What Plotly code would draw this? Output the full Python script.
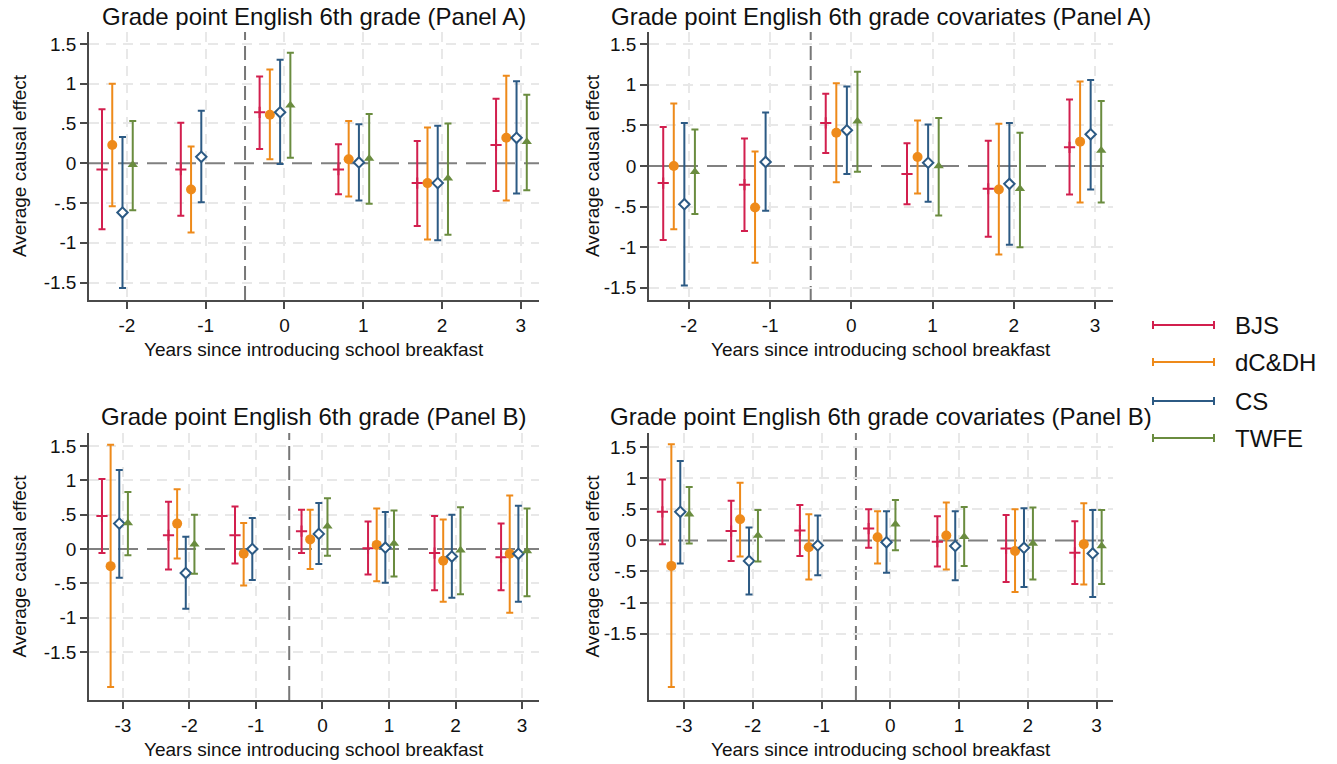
import numpy as np
import plotly.graph_objects as go

# ---------------- data ----------------
methods = ["BJS", "dC&DH", "CS", "TWFE"]
events_A = [-2, -1, 0, 1, 2, 3]
events_B = [-3, -2, -1, 0, 1, 2, 3]
NA = np.nan

# Panel A (no covariates)
a_bjs_est = [-0.08, -0.08, 0.64, -0.08, -0.25, 0.23]
a_bjs_lo = [-0.83, -0.66, 0.18, -0.39, -0.79, -0.35]
a_bjs_hi = [0.68, 0.51, 1.09, 0.24, 0.28, 0.81]
a_dc_est = [0.23, -0.33, 0.61, 0.05, -0.25, 0.32]
a_dc_lo = [-0.54, -0.87, 0.05, -0.42, -0.96, -0.47]
a_dc_hi = [1.00, 0.21, 1.18, 0.53, 0.45, 1.10]
a_cs_est = [-0.62, 0.08, 0.64, 0.01, -0.25, 0.32]
a_cs_lo = [-1.57, -0.49, -0.01, -0.47, -0.97, -0.38]
a_cs_hi = [0.33, 0.66, 1.30, 0.49, 0.47, 1.03]
a_tw_est = [-0.02, NA, 0.73, 0.06, -0.19, 0.27]
a_tw_lo = [-0.59, NA, 0.07, -0.51, -0.90, -0.34]
a_tw_hi = [0.53, NA, 1.39, 0.62, 0.50, 0.86]

# Panel A with covariates
ac_bjs_est = [-0.21, -0.23, 0.53, -0.10, -0.28, 0.23]
ac_bjs_lo = [-0.91, -0.80, 0.16, -0.47, -0.87, -0.35]
ac_bjs_hi = [0.48, 0.34, 0.89, 0.28, 0.31, 0.82]
ac_dc_est = [0.00, -0.51, 0.41, 0.11, -0.29, 0.30]
ac_dc_lo = [-0.78, -1.19, -0.20, -0.34, -1.09, -0.45]
ac_dc_hi = [0.77, 0.18, 1.02, 0.56, 0.52, 1.04]
ac_cs_est = [-0.47, 0.05, 0.44, 0.04, -0.22, 0.39]
ac_cs_lo = [-1.47, -0.55, -0.10, -0.44, -0.97, -0.29]
ac_cs_hi = [0.53, 0.66, 0.98, 0.51, 0.53, 1.06]
ac_tw_est = [-0.07, NA, 0.55, 0.00, -0.28, 0.19]
ac_tw_lo = [-0.59, NA, -0.07, -0.61, -1.00, -0.45]
ac_tw_hi = [0.45, NA, 1.16, 0.59, 0.41, 0.80]

# Panel B (no covariates)
b_bjs_est = [0.48, 0.20, 0.20, 0.26, 0.01, -0.06, -0.12]
b_bjs_lo = [-0.06, -0.30, -0.21, -0.06, -0.37, -0.60, -0.60]
b_bjs_hi = [1.02, 0.69, 0.62, 0.57, 0.40, 0.48, 0.37]
b_dc_est = [-0.25, 0.37, -0.07, 0.14, 0.06, -0.17, -0.07]
b_dc_lo = [-2.01, -0.14, -0.53, -0.29, -0.47, -0.77, -0.93]
b_dc_hi = [1.52, 0.87, 0.38, 0.57, 0.59, 0.43, 0.78]
b_cs_est = [0.37, -0.35, 0.00, 0.22, 0.02, -0.11, -0.07]
b_cs_lo = [-0.42, -0.87, -0.45, -0.22, -0.49, -0.71, -0.77]
b_cs_hi = [1.15, 0.18, 0.45, 0.67, 0.54, 0.50, 0.63]
b_tw_est = [0.38, 0.07, NA, 0.33, 0.08, -0.02, -0.03]
b_tw_lo = [-0.09, -0.36, NA, -0.10, -0.40, -0.66, -0.69]
b_tw_hi = [0.83, 0.50, NA, 0.74, 0.56, 0.61, 0.59]

# Panel B with covariates
bc_bjs_est = [0.46, 0.15, 0.16, 0.19, -0.02, -0.13, -0.20]
bc_bjs_lo = [-0.06, -0.33, -0.25, -0.12, -0.42, -0.67, -0.70]
bc_bjs_hi = [0.98, 0.64, 0.57, 0.50, 0.39, 0.41, 0.31]
bc_dc_est = [-0.41, 0.34, -0.11, 0.05, 0.08, -0.17, -0.06]
bc_dc_lo = [-2.36, -0.26, -0.63, -0.37, -0.47, -0.83, -0.71]
bc_dc_hi = [1.55, 0.93, 0.42, 0.47, 0.61, 0.50, 0.60]
bc_cs_est = [0.46, -0.33, -0.08, -0.03, -0.09, -0.12, -0.21]
bc_cs_lo = [-0.37, -0.87, -0.56, -0.52, -0.64, -0.75, -0.91]
bc_cs_hi = [1.28, 0.21, 0.40, 0.47, 0.47, 0.52, 0.49]
bc_tw_est = [0.42, 0.08, NA, 0.26, 0.06, -0.05, -0.09]
bc_tw_lo = [-0.05, -0.34, NA, -0.16, -0.41, -0.63, -0.70]
bc_tw_hi = [0.86, 0.49, NA, 0.65, 0.54, 0.53, 0.49]

titles = [
    "Grade point English 6th grade (Panel A)",
    "Grade point English 6th grade covariates (Panel A)",
    "Grade point English 6th grade (Panel B)",
    "Grade point English 6th grade covariates (Panel B)",
]
x_title = "Years since introducing school breakfast"
y_title = "Average causal effect"
y_tickvals = [-1.5, -1, -0.5, 0, 0.5, 1, 1.5]
y_ticktext = ["-1.5", "-1", "-.5", "0", ".5", "1", "1.5"]

panels = [
    (events_A, {"BJS": (a_bjs_est, a_bjs_lo, a_bjs_hi), "dC&DH": (a_dc_est, a_dc_lo, a_dc_hi),
                "CS": (a_cs_est, a_cs_lo, a_cs_hi), "TWFE": (a_tw_est, a_tw_lo, a_tw_hi)}),
    (events_A, {"BJS": (ac_bjs_est, ac_bjs_lo, ac_bjs_hi), "dC&DH": (ac_dc_est, ac_dc_lo, ac_dc_hi),
                "CS": (ac_cs_est, ac_cs_lo, ac_cs_hi), "TWFE": (ac_tw_est, ac_tw_lo, ac_tw_hi)}),
    (events_B, {"BJS": (b_bjs_est, b_bjs_lo, b_bjs_hi), "dC&DH": (b_dc_est, b_dc_lo, b_dc_hi),
                "CS": (b_cs_est, b_cs_lo, b_cs_hi), "TWFE": (b_tw_est, b_tw_lo, b_tw_hi)}),
    (events_B, {"BJS": (bc_bjs_est, bc_bjs_lo, bc_bjs_hi), "dC&DH": (bc_dc_est, bc_dc_lo, bc_dc_hi),
                "CS": (bc_cs_est, bc_cs_lo, bc_cs_hi), "TWFE": (bc_tw_est, bc_tw_lo, bc_tw_hi)}),
]

# ---------------- style / layout ----------------
W, H = 1337, 764


def px(p):
    return p / W


def py(p):
    return 1 - p / H


FONT = "Liberation Sans, Arial, sans-serif"
TXT = "#111111"
GRID = dict(showgrid=True, gridcolor="#E8E8E8", griddash="10px,7px", gridwidth=1.5)
STYLE = {
    "BJS": dict(color="#D21F4E", symbol="cross-thin", size=8, offset=-0.315),
    "dC&DH": dict(color="#EE8A1A", symbol="circle", size=10, offset=-0.185),
    "CS": dict(color="#2C5A84", symbol="diamond", size=8, offset=-0.055),
    "TWFE": dict(color="#6A8C3F", symbol="triangle-up", size=9, offset=0.075),
}
# plot areas in page pixels: (left, right, top, bottom)
BOX = [(89, 539, 32, 300), (649, 1113, 32, 300), (89, 539, 433, 700), (649, 1113, 433, 700)]
XR = [[-2.48, 3.23], [-2.49, 3.22], [-3.51, 3.255], [-3.51, 3.24]]
YR = [[-1.72, 1.65], [-1.65, 1.65], [-2.20, 1.69], [-2.57, 1.73]]
YT_X = [19, 592, 19, 592]

fig = go.Figure()
annotations = []
shapes = []
for i, (events, data) in enumerate(panels):
    k = "" if i == 0 else str(i + 1)
    xa, ya = "x" + k, "y" + k
    for m in methods:
        est, lo, hi = (np.array(v, dtype=float) for v in data[m])
        st = STYLE[m]
        is_open = st["symbol"] == "diamond"
        fig.add_trace(go.Scatter(
            x=np.array(events) + st["offset"], y=est, mode="markers", name=m, showlegend=False,
            xaxis=xa, yaxis=ya,
            error_y=dict(type="data", symmetric=False, array=hi - est, arrayminus=est - lo,
                         color=st["color"], thickness=2, width=3.5),
            marker=dict(symbol=st["symbol"], size=st["size"],
                        color="white" if is_open else st["color"],
                        line=dict(width=2 if st["symbol"] in ("diamond", "cross-thin") else 0,
                                  color=st["color"])),
            hoverinfo="skip",
        ))
    l, r, t, b = BOX[i]
    common = dict(showline=True, linecolor="#4a4a4a", linewidth=1.5, ticks="outside", ticklen=7,
                  tickwidth=1.5, tickcolor="#4a4a4a", zeroline=False,
                  tickfont=dict(size=19, color=TXT, family=FONT))
    fig.layout["xaxis" + k] = dict(common, **GRID, domain=[px(l), px(r)], range=XR[i], anchor=ya,
                                   tickvals=events, ticktext=[str(e) for e in events])
    # y grid drawn as minor grid everywhere except at 0 (0 gets the darker reference line)
    fig.layout["yaxis" + k] = dict(common, showgrid=False, domain=[py(b), py(t)], range=YR[i], anchor=xa,
                                   tickvals=y_tickvals, ticktext=y_ticktext,
                                   minor=dict(tickvals=[v for v in y_tickvals if v != 0], ticks="", **GRID))
    # reference lines
    shapes.append(dict(type="line", xref=xa, yref=ya + " domain", x0=-0.5, x1=-0.5, y0=0, y1=1,
                       line=dict(color="#777777", width=2, dash="14px,6px"), layer="below"))
    shapes.append(dict(type="line", xref=xa + " domain", yref=ya, x0=0, x1=1, y0=0, y1=0,
                       line=dict(color="#808080", width=2, dash="20px,9px"), layer="below"))
    # titles
    annotations.append(dict(text=titles[i], x=px((l + r) / 2), y=py(17 if i < 2 else 416),
                            xref="paper", yref="paper", showarrow=False, xanchor="center", yanchor="middle",
                            font=dict(size=24, color=TXT, family=FONT)))
    annotations.append(dict(text=x_title, x=px((l + r) / 2), y=py(b + 49),
                            xref="paper", yref="paper", showarrow=False, xanchor="center", yanchor="middle",
                            font=dict(size=19, color=TXT, family=FONT)))
    annotations.append(dict(text=y_title, x=px(YT_X[i]), y=py((t + b) / 2), textangle=-90,
                            xref="paper", yref="paper", showarrow=False, xanchor="center", yanchor="middle",
                            font=dict(size=19, color=TXT, family=FONT)))

# manual legend (error-bar style keys)
LEG_Y = [325, 362, 401, 438]
for m, yy in zip(methods, LEG_Y):
    c = STYLE[m]["color"]
    y = py(yy)
    shapes.append(dict(type="line", xref="paper", yref="paper", x0=px(1153), x1=px(1214), y0=y, y1=y,
                       line=dict(color=c, width=2)))
    for xx in (1153, 1214):
        shapes.append(dict(type="line", xref="paper", yref="paper", x0=px(xx), x1=px(xx),
                           y0=y - 4 / H, y1=y + 4 / H, line=dict(color=c, width=2)))
    annotations.append(dict(text=m, x=px(1233), y=y, xref="paper", yref="paper", showarrow=False,
                            xanchor="left", yanchor="middle", font=dict(size=24, color=TXT, family=FONT)))

fig.update_layout(width=W, height=H, autosize=False, margin=dict(l=0, r=0, t=0, b=0),
                  paper_bgcolor="white", plot_bgcolor="white", showlegend=False,
                  font=dict(family=FONT, color=TXT), shapes=shapes, annotations=annotations)
fig.write_html("out.html", config={"displayModeBar": False},
               post_script="document.body.style.margin='0px';document.body.style.overflow='hidden';")
